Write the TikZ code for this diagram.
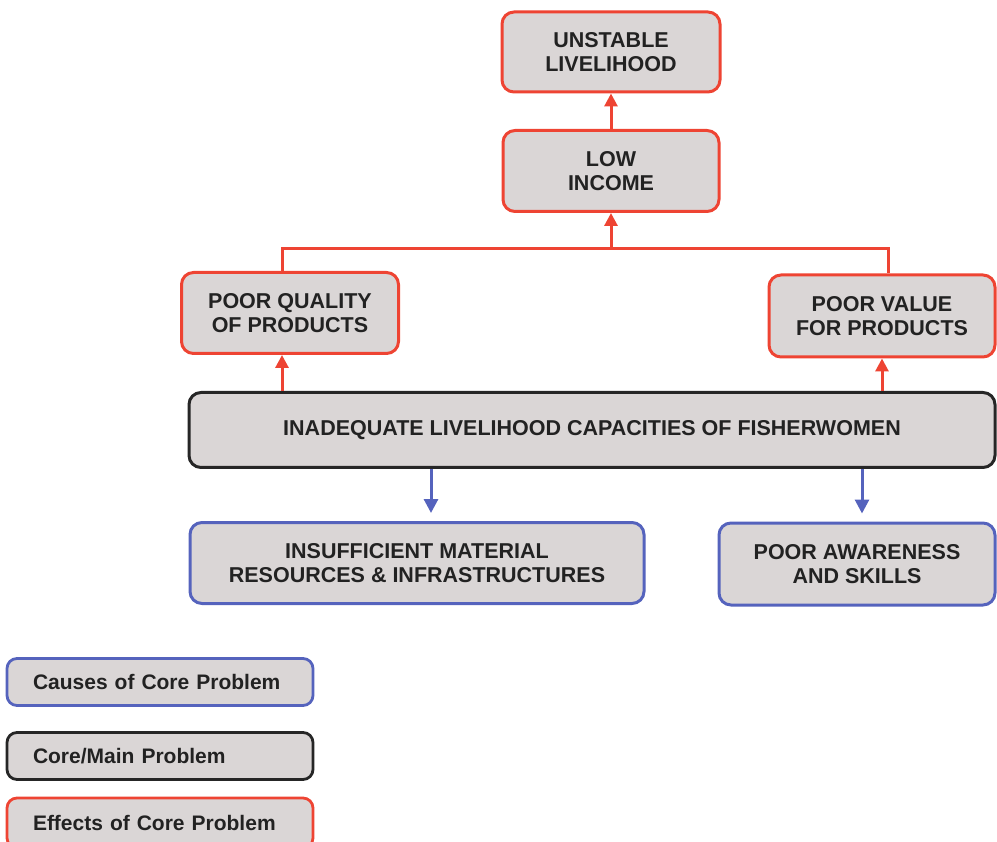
\documentclass[tikz,border=0pt]{standalone}
\usepackage{fontspec}
\setmainfont{Liberation Sans}
\usepackage{xcolor}
\usetikzlibrary{positioning,arrows.meta}

\definecolor{boxfill}{HTML}{DAD6D6}
\definecolor{effectred}{HTML}{EE4433}
\definecolor{causeblue}{HTML}{5563BD}
\definecolor{textgrey}{HTML}{222222}

\begin{document}
\begin{tikzpicture}[
    x=1pt, y=-1pt,
    every node/.style={text=textgrey},
    effect/.style={
        rectangle,
        draw=effectred,
        line width=3pt,
        fill=boxfill,
        align=center,
        font=\fontsize{21.5}{23.5}\selectfont\bfseries,
        rounded corners=12pt
    },
    core/.style={
        effect,
        draw=black!85
    },
    cause/.style={
        effect,
        draw=causeblue
    },
    legend/.style={
        rectangle,
        line width=2.8pt,
        fill=boxfill,
        minimum width=306pt,
        minimum height=47pt,
        text width=254pt,
        inner xsep=26pt,
        align=left,
        font=\fontsize{21}{24}\selectfont\bfseries,
        rounded corners=10pt
    },
    effectarrow/.style={draw=effectred, line width=3pt, -{Triangle[width=13pt,length=13pt]}},
    effectline/.style={draw=effectred, line width=3pt},
    causearrow/.style={draw=causeblue, line width=3pt, -{Triangle[width=14pt,length=14pt]}, shorten >=8pt}
]
    \useasboundingbox (0,0) rectangle (997,842);

    % Effects
    \node[effect, minimum width=218pt, minimum height=80pt] (unstable) at (611,52) {UNSTABLE\\LIVELIHOOD};
    \node[effect, minimum width=216pt, minimum height=81pt] (income) at (611,171) {LOW\\INCOME};
    \node[effect, minimum width=217pt, minimum height=81pt] (quality) at (290,313) {POOR QUALITY\\OF PRODUCTS};
    \node[effect, minimum width=226pt, minimum height=82pt] (value) at (882,316) {POOR VALUE\\FOR PRODUCTS};

    % Core problem
    \node[core, minimum width=806pt, minimum height=75pt] (coreprob) at (592,430) {INADEQUATE LIVELIHOOD CAPACITIES OF FISHERWOMEN};

    % Causes
    \node[cause, minimum width=454pt, minimum height=81pt] (material) at (417,563) {INSUFFICIENT MATERIAL\\RESOURCES \& INFRASTRUCTURES};
    \node[cause, minimum width=276pt, minimum height=82pt] (awareness) at (857,564) {POOR AWARENESS\\AND SKILLS};

    % Legend
    \node[legend, draw=causeblue] (legcause) at (160,682) {Causes of Core Problem};
    \node[legend, draw=black!85] (legcore) at (160,756) {Core/Main Problem};
    \node[legend, draw=effectred, minimum height=50pt] (legeffect) at (160,823) {Effects of Core Problem};

    % Junctions
    \coordinate (bar) at (611,249);
    \coordinate (qx) at (282,0);
    \coordinate (vx) at (888,0);
    \coordinate (mx) at (431,0);
    \coordinate (ax) at (862,0);

    % Effect connectors
    \draw[effectarrow] (income.north) -- (unstable.south);
    \draw[effectline] (quality.north -| qx) |- (bar) -| (value.north -| vx);
    \draw[effectarrow] (bar) -- (income.south);
    \draw[effectarrow] (coreprob.north -| qx) -- (quality.south -| qx);
    \draw[effectarrow] (coreprob.north -| value) -- (value.south);

    % Cause connectors
    \draw[causearrow] (coreprob.south -| mx) -- (material.north -| mx);
    \draw[causearrow] (coreprob.south -| ax) -- (awareness.north -| ax);
\end{tikzpicture}
\end{document}
